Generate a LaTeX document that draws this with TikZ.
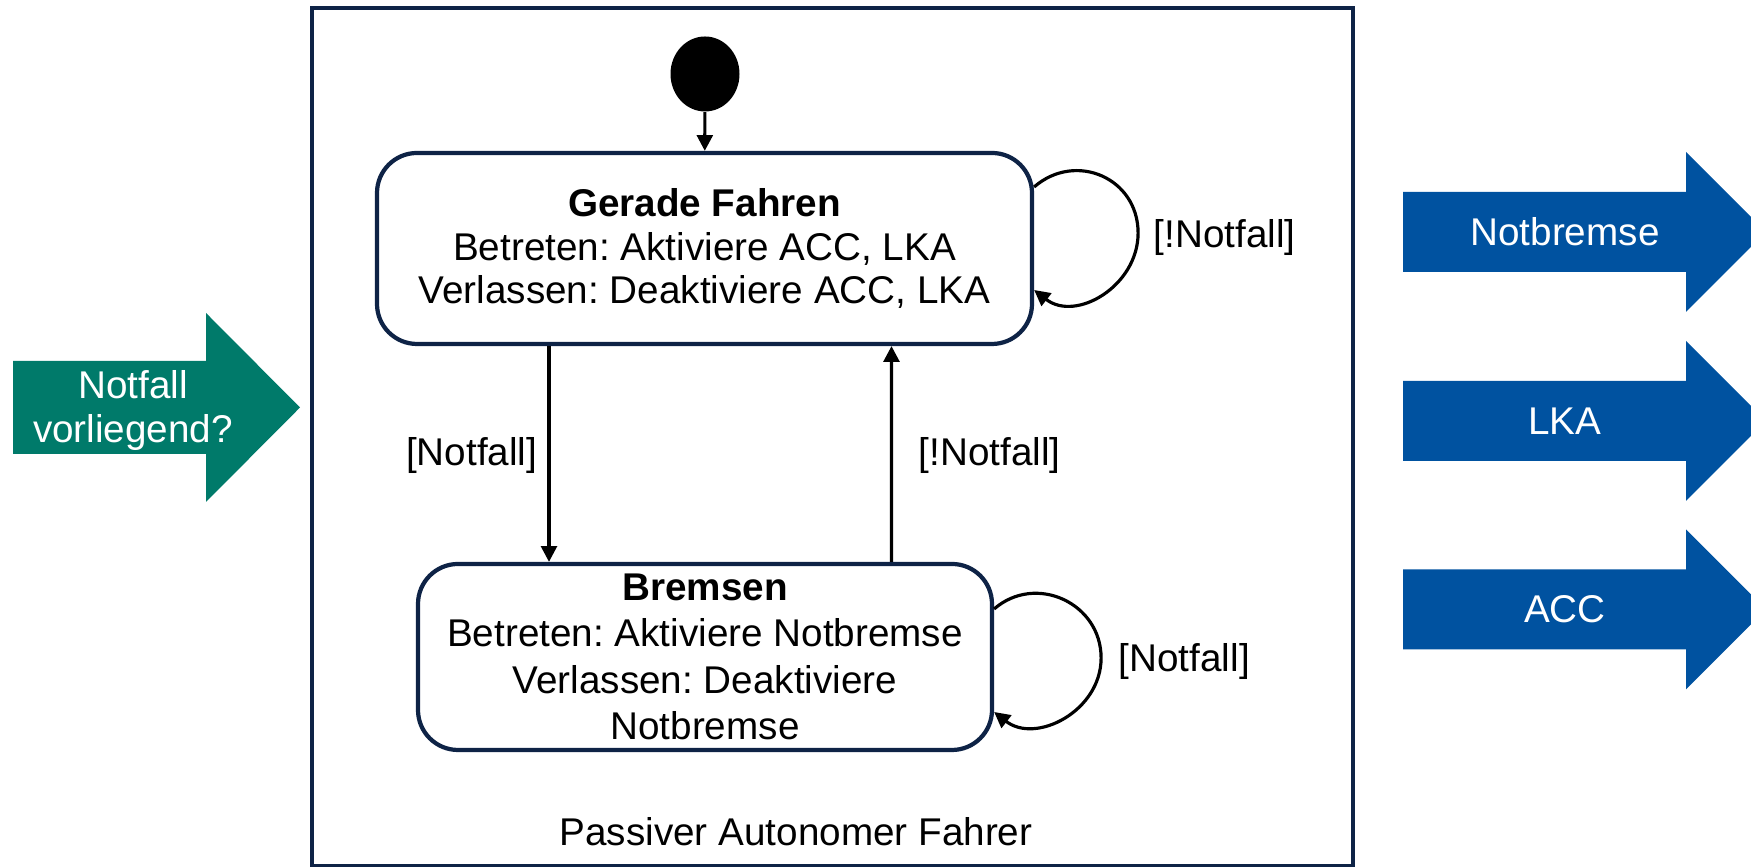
\documentclass[tikz,border=0pt]{standalone}
\usepackage{fontspec}
\setmainfont{Liberation Sans}
\usepackage{tikz}
\usetikzlibrary{arrows.meta, positioning, shapes.geometric}

\definecolor{navy}{RGB}{14,35,70}
\definecolor{petrol}{RGB}{0,122,106}
\definecolor{blau}{RGB}{0,82,160}

\tikzset{
    zustand/.style={draw=navy, line width=1.2pt, rounded corners=0.4cm, align=center, inner sep=2pt},
    startpunkt/.style={ellipse, fill=black, minimum width=0.69cm, minimum height=0.75cm, inner sep=0pt},
    trans/.style={-{Triangle[length=4.5pt, width=4.5pt]}, line width=0.9pt},
    marke/.style={inner sep=0pt},
}

\begin{document}
\frenchspacing
\begin{tikzpicture}[every node/.style={font=\fontsize{11}{12.5}\selectfont}]
    \useasboundingbox (0,0) rectangle (17.51,8.67);

    % Rahmen
    \draw[navy, line width=1pt] (3.12,0.01) rectangle (13.53,8.59);
    \node (titel) at (7.96,0.35) {Passiver Autonomer Fahrer};

    % Zustaende
    \node[startpunkt] (start) at (7.05,7.93) {};
    \node[zustand, minimum width=6.55cm, minimum height=1.91cm] (gerade) at (7.045,6.185)
        {\textbf{Gerade Fahren}\\Betreten: Aktiviere ACC, LKA\\Verlassen: Deaktiviere ACC, LKA};
    \node[zustand, minimum width=5.74cm, minimum height=1.86cm,
          font=\fontsize{11}{13.2}\selectfont] (bremsen) at (7.05,2.10)
        {\textbf{Bremsen}\\Betreten: Aktiviere Notbremse\\Verlassen: Deaktiviere\\Notbremse};

    % Uebergaenge
    \draw[trans] (start) -- (gerade);
    \draw[trans] ([xshift=-1.555cm]gerade.south) -- ([xshift=-1.56cm]bremsen.north);
    \draw[trans] ([xshift=1.865cm]bremsen.north) -- ([xshift=1.87cm]gerade.south);
    \draw[trans] ([yshift=0.615cm]gerade.east) to[out=41, in=90, distance=0.55cm] ++(1.04,-0.46)
        to[out=-90, in=-38, distance=0.53cm] ([yshift=-0.415cm]gerade.east);
    \draw[trans] ([yshift=0.48cm]bremsen.east) to[out=41, in=90, distance=0.55cm] ++(1.07,-0.49)
        to[out=-90, in=-38, distance=0.53cm] ([yshift=-0.55cm]bremsen.east);

    \node[marke, anchor=east] (runter) at (5.38,4.11) {[Notfall]};
    \node[marke, anchor=west] (hoch) at (9.18,4.11) {[!Notfall]};
    \node[marke, anchor=west] (bleiben) at (11.53,6.29) {[!Notfall]};
    \node[marke, anchor=west] (halten) at (11.18,2.05) {[Notfall]};

    % Eingang
    \fill[petrol] (0.13,4.13) -- (2.06,4.13) -- (2.06,3.65) -- (3.00,4.595)
        -- (2.06,5.54) -- (2.06,5.06) -- (0.13,5.06) -- cycle;
    \node[white, align=center] (notfall) at (1.33,4.565) {Notfall\\vorliegend?};

    % Ausgaenge
    \foreach \y/\txt/\name in {6.35/Notbremse/nb, 4.46/LKA/lka, 2.575/ACC/acc} {
        \fill[blau] (14.03,{\y-0.4}) -- (16.86,{\y-0.4}) -- (16.86,{\y-0.8}) -- (17.66,\y)
            -- (16.86,{\y+0.8}) -- (16.86,{\y+0.4}) -- (14.03,{\y+0.4}) -- cycle;
        \node[white] (\name) at (15.65,\y) {\txt};
    }
\end{tikzpicture}
\end{document}
